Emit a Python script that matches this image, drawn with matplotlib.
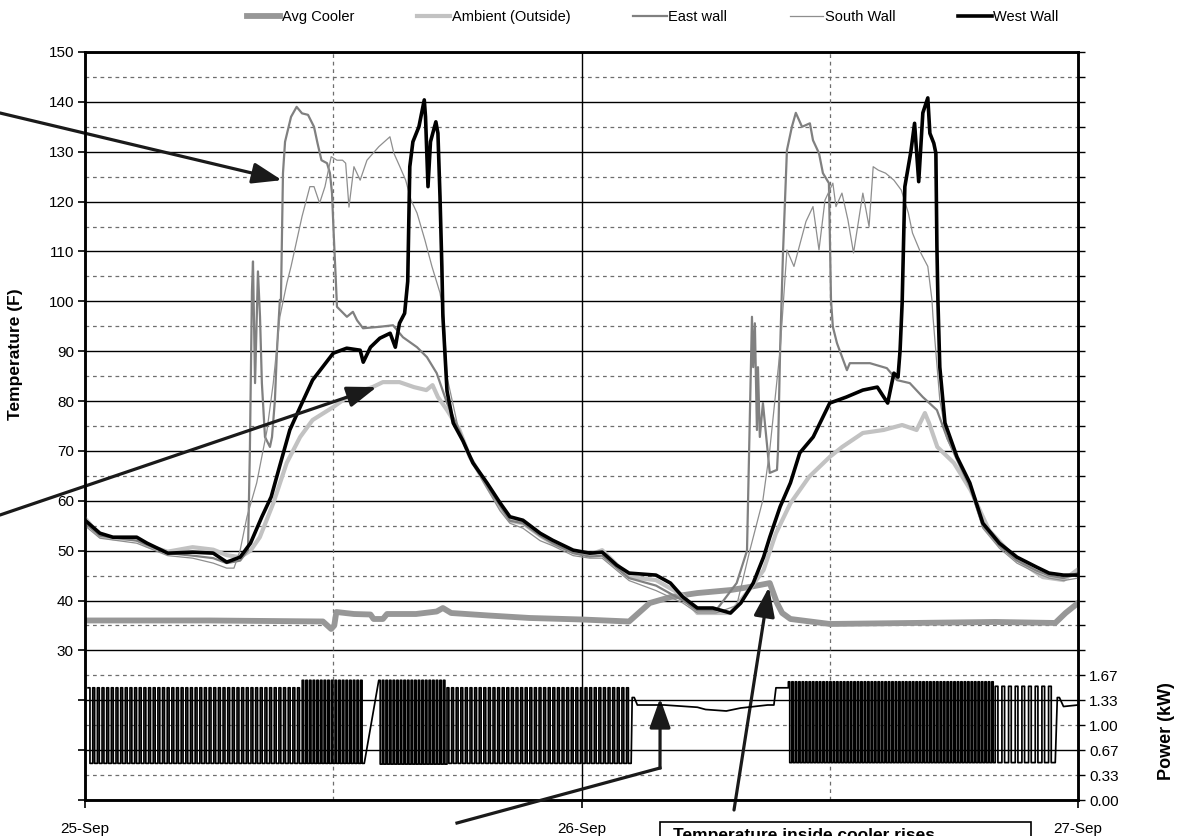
import numpy as np
import matplotlib
matplotlib.use('Agg')
import matplotlib.pyplot as plt
from matplotlib.lines import Line2D
from matplotlib.patches import Rectangle

plt.rcParams['font.family'] = ['Liberation Sans', 'DejaVu Sans']

# hours since 25-Sep 00:00
date_ticks = [0, 24, 48]
date_labels = ['25-Sep', '26-Sep', '27-Sep']

# Avg Cooler
cool_h = [0, 6, 11.5, 11.9, 12.05, 12.15, 13.0, 13.8, 13.95, 14.4, 14.6, 16.0, 17.0, 17.3, 17.7,
          19.5, 21.5, 24, 26.3, 27.3, 28.3, 29.6, 31.2, 32.1, 33.1, 33.45, 33.7, 34.1, 36, 40,
          44, 46.9, 47.4, 48]
cool_t = [36, 36, 35.8, 34.3, 35, 37.7, 37.3, 37.2, 36.3, 36.3, 37.3, 37.3, 37.8, 38.5, 37.5,
          37, 36.5, 36.2, 35.8, 39.5, 40.7, 41.5, 42.1, 42.7, 43.5, 39.5, 37.5, 36.3, 35.3, 35.5,
          35.7, 35.5, 37.5, 39.5]

# Ambient (Outside)
amb_h = [0, 0.72, 1.35, 2.5, 3.0, 4.0, 5.2, 6.2, 6.85, 7.5, 8.0, 8.45, 9.1, 9.75, 10.4, 11.0,
         12.0, 12.95, 13.9, 14.4, 15.2, 15.9, 16.5, 16.8, 17.06, 17.5, 18.1, 18.6, 19.43, 20.06,
         20.54, 21.17, 22.0, 22.6, 23.6, 24.4, 25.0, 26.3, 27.6, 28.9, 29.6, 31.2, 32.1, 32.8,
         33.4, 34.1, 35.0, 36.0, 36.6, 37.6, 38.6, 39.5, 40.2, 40.6, 40.8, 41.2, 42.0, 42.8,
         43.7, 44.9, 46.3, 47.3, 47.95]
amb_t = [56.5, 53, 52.5, 52.3, 51, 49.8, 50.7, 50.2, 49.1, 48.7, 50, 52.7, 59.5, 67.6, 72.8, 76.2,
         78.8, 81.6, 82.8, 83.8, 83.8, 82.8, 82.2, 83.2, 80.8, 78.2, 74.2, 68.8, 63, 58.8,
         56, 55.5, 53, 51.5, 49.7, 49.2, 50.1, 44.7, 44.1, 41, 37.5, 37.5, 42.1, 46.1,
         53.5, 59.5, 64.8, 68.8, 70.8, 73.6, 74.2, 75.2, 74.2, 77.6, 75.6, 70.8, 67.6, 62.2,
         54.1, 48.7, 44.7, 44.1, 46.1]

# East wall
east_h = [0, 0.72, 2.5, 4.0, 5.2, 6.2, 6.85, 7.5, 7.88, 7.97, 8.07, 8.12, 8.22, 8.36, 8.46, 8.55,
          8.7, 8.94, 9.04, 9.18, 9.28, 9.42, 9.47, 9.57, 9.67, 9.96, 10.23, 10.49, 10.78, 11.07,
          11.24, 11.43, 11.7, 11.84, 11.94, 12.02, 12.13, 12.18, 12.66, 12.95, 13.15, 13.44,
          14.26, 14.89, 15.37, 16.05, 16.53, 17.0, 17.5, 18.1, 18.6, 19.43, 20.06, 20.54, 21.17,
          22.0, 22.6, 23.6, 24.4, 25.0, 26.3, 27.6, 28.9, 29.6, 30.5, 31.5, 32.0, 32.24, 32.3,
          32.38, 32.48, 32.53, 32.62, 32.77, 33.1, 33.45, 33.5, 33.6, 33.74, 33.93, 34.17, 34.36,
          34.66, 35.04, 35.19, 35.48, 35.67, 35.96, 36.06, 36.15, 36.35, 36.83, 36.97, 37.94,
          38.76, 39.25, 39.87, 40.5, 41.18, 41.66, 42.15, 42.77, 43.4, 44.2, 45.05, 46.0, 46.6,
          47.3, 48.0]
east_t = [55.5, 53, 52, 49.5, 49, 48.5, 47.5, 48, 50.1, 70.2, 102, 108, 83.6, 106, 96.9, 83.6,
          72.8, 70.8, 72.8, 80.2, 90.2, 100.3, 100, 125.7, 132, 137, 139, 137.7, 137.4, 135,
          131.7, 128.3, 127.7, 125.7, 121.7, 113.7, 103.7, 98.9, 96.9, 97.9, 96.2, 94.6,
          94.9, 95.2, 92.8, 90.8, 88.8, 85.6, 79.6, 74, 69, 63, 59, 56, 55.5,
          53, 51.5, 49.5, 48.8, 49, 44.5, 43, 40, 38, 38, 43.5, 50, 96.9, 86.8,
          95.6, 74.2, 86.8, 72.8, 79.6, 65.6, 66.2, 70.2, 90.2, 109.7, 130.3, 135, 137.8,
          135, 135.7, 132.3, 129.7, 125.7, 123.7, 100.3, 94.9, 91.6, 86.2, 87.6, 87.6,
          86.6, 84.2, 83.6, 80.8, 78.2, 72.8, 68.5, 63, 55, 51, 48, 46, 45,
          44.5, 45.5]

# South Wall
south_h = [0, 0.72, 2.5, 4.0, 5.2, 6.2, 6.85, 7.2, 7.5, 7.83, 8.3, 8.8, 9.1, 9.42, 9.76, 9.96,
           10.49, 10.87, 11.07, 11.34, 11.6, 11.9, 12.18, 12.45, 12.6, 12.76, 13.0, 13.3, 13.63,
           14.2, 14.74, 14.93, 15.22, 15.5, 15.76, 16.05, 16.43, 16.77, 17.16, 17.35, 17.5,
           18.1, 18.6, 19.43, 20.06, 20.54, 21.17, 22.0, 22.6, 23.6, 24.4, 25.0, 26.3, 27.6,
           28.9, 29.6, 30.5, 31.5, 32.14, 32.77, 33.1, 33.6, 33.93, 34.27, 34.85, 35.19, 35.48,
           35.77, 36.15, 36.3, 36.59, 36.88, 37.15, 37.6, 37.9, 38.1, 38.35, 38.7, 39.1, 39.46,
           39.8, 40.0, 40.4, 40.74, 40.94, 40.99, 41.32, 41.66, 42.15, 42.77, 43.4, 44.2, 45.05,
           46.0, 46.6, 47.3, 48.0]
south_t = [55, 52.5, 51.5, 49, 48.5, 47.5, 46.5, 46.5, 50.1, 56.8, 63.6, 74.2, 83.6, 96.9, 103.7, 107,
           117, 123, 123, 119.7, 123, 129, 128.3, 128.3, 127.7, 118.9, 127, 124.3, 128.3,
           131, 133, 129.7, 127, 124.3, 120.3, 117.7, 112.3, 107, 101.7, 96.9, 84.8,
           73.5, 68.5, 62.5, 58, 55.5, 54.5, 52, 51, 49, 48.5, 48.5, 44, 42,
           39.5, 37.5, 37.5, 39, 50.1, 60.2, 70.2, 90.2, 110.3, 107, 116, 119, 110.3,
           120.3, 123.7, 119, 121.7, 116.3, 109.7, 121.7, 115, 127, 126.3, 125.7, 124.3, 122.3,
           117.7, 113.7, 109.7, 107, 100.3, 96.9, 80.2, 72.5, 68, 62.5, 54.5, 50.5, 47.5,
           45.5, 44.5, 44, 44.5]

# West Wall
west_h = [0, 0.72, 1.35, 2.5, 3.0, 4.0, 5.2, 6.2, 6.85, 7.5, 8.0, 8.55, 9.0, 9.4, 9.9, 10.4, 11.0,
          12.0, 12.65, 13.3, 13.45, 13.8, 14.25, 14.75, 15.0, 15.2, 15.45, 15.6, 15.7, 15.85,
          16.14, 16.4, 16.46, 16.58, 16.7, 16.96, 17.06, 17.16, 17.25, 17.3, 17.5, 17.8, 18.27,
          18.75, 19.43, 20.06, 20.54, 21.17, 22.0, 22.6, 23.6, 24.4, 25.0, 25.7, 26.3, 27.6,
          28.3, 28.9, 29.6, 30.35, 31.2, 31.7, 32.3, 32.8, 33.1, 33.6, 34.1, 34.55, 35.2, 36.0,
          36.8, 37.6, 38.3, 38.8, 39.1, 39.3, 39.4, 39.5, 39.63, 39.92, 40.1, 40.3, 40.5, 40.74,
          40.84, 41.03, 41.13, 41.18, 41.23, 41.32, 41.57, 42.15, 42.77, 43.4, 44.2, 45.05,
          46.0, 46.6, 47.3, 48.0]
west_t = [56.1, 53.5, 52.7, 52.7, 51.5, 49.5, 49.7, 49.5, 47.7, 48.7, 51.5, 56.8, 60.8, 66.8, 74.2,
          78.8, 84.2, 89.6, 90.6, 90.2, 87.8, 90.8, 92.6, 93.6, 90.8, 95.6, 97.6, 104, 127, 132,
          135, 140.4, 137, 123, 132, 136, 133.7, 121, 107, 97, 82, 75.6, 72,
          67.6, 63.6, 59.6, 56.8, 56.1, 53.5, 52.1, 50.1, 49.5, 49.7, 47.1, 45.5, 45.1,
          43.5, 40.7, 38.5, 38.5, 37.5, 39.5, 43.5, 48.7, 52.7, 58.8, 63.6, 69.6, 72.8, 79.6,
          80.8, 82.2, 82.8, 79.6, 85.6, 84.8, 90.2, 99.7, 123, 130, 135.7, 124, 137.8, 140.8,
          133.7, 131.7, 129.7, 111, 100, 86.8, 75.6, 68.8, 63.6, 55.5, 51.5, 48.7,
          46.7, 45.5, 45.1, 45.1]

# Power (kW): compressor cycling blocks
cyc_start = [0.15, 10.5, 14.2, 17.5, 34.0, 44.0]
cyc_end = [10.5, 13.5, 17.5, 26.4, 44.0, 46.9]
cyc_count = [46, 17, 19, 40, 60, 9]
cyc_low = [0.49, 0.49, 0.48, 0.49, 0.50, 0.50]
cyc_high = [1.50, 1.60, 1.60, 1.50, 1.58, 1.52]
# steady parts between cycling blocks
flat_h = [[], [], [], [26.45, 26.55, 26.7, 28.0, 29.6, 30.0, 31.0, 31.7, 33.0, 33.3, 33.4, 34.0],
          [], [47.0, 47.1, 47.3, 48.0]]
flat_p = [[], [], [], [1.37, 1.37, 1.27, 1.27, 1.24, 1.21, 1.19, 1.23, 1.27, 1.27, 1.50, 1.50],
          [], [1.37, 1.37, 1.25, 1.27]]

pw_h, pw_v = [], []
for i in range(len(cyc_start)):
    per = (cyc_end[i] - cyc_start[i]) / cyc_count[i]
    for k in range(cyc_count[i]):
        s = cyc_start[i] + k * per
        pw_h += [s, s + 0.4 * per, s + 0.4 * per, s + per]
        pw_v += [cyc_high[i], cyc_high[i], cyc_low[i], cyc_low[i]]
    pw_h += flat_h[i]
    pw_v += flat_p[i]

fig = plt.figure(figsize=(11.8, 8.36), dpi=100)
ax = fig.add_axes([85 / 1180, 1 - 800 / 836, 993 / 1180, 748 / 836])
ax.set_xlim(0, 48)
ax.set_ylim(0, 150)

# grid
for v in range(0, 151, 10):
    ax.axhline(v, color='black', lw=1.0, zorder=1)
for v in range(5, 150, 10):
    ax.axhline(v, color='#6e6e6e', lw=0.9, ls=(0, (3, 3)), zorder=1)
ax.axvline(24, color='black', lw=1.0, zorder=1)
for v in [12, 36]:
    ax.axvline(v, color='#6e6e6e', lw=0.9, ls=(0, (3, 3)), zorder=1)

l1, = ax.plot(cool_h, cool_t, color='#979797', lw=4.2, label='Avg Cooler', zorder=2)
l2, = ax.plot(amb_h, amb_t, color='#c2c2c2', lw=3.0, label='Ambient (Outside)', zorder=3)
l3, = ax.plot(east_h, east_t, color='#808080', lw=1.6, label='East wall', zorder=4)
l4, = ax.plot(south_h, south_t, color='#8e8e8e', lw=0.9, label='South Wall', zorder=5)
l5, = ax.plot(west_h, west_t, color='black', lw=2.6, label='West Wall', zorder=6)

ax.set_xticks(date_ticks)
ax.set_xticklabels(date_labels)
ax.set_yticks(range(0, 151, 10))
ax.set_yticklabels([str(v) if v >= 30 else '' for v in range(0, 151, 10)])
ax.tick_params(axis='x', direction='out', length=6, width=1.2, labelsize=11, pad=10)
ax.tick_params(axis='y', direction='out', length=5, width=1.2, labelsize=11, pad=3)
ax.set_ylabel('Temperature (F)', fontsize=12.5, fontweight='bold')
ax.yaxis.set_label_coords(-0.062, 0.596)
for sp in ax.spines.values():
    sp.set_linewidth(1.8)

ax2 = ax.twinx()
ax2.set_ylim(0, 10)
ax2.plot(pw_h, pw_v, color='black', lw=1.25, zorder=6)
pticks = [k / 3 for k in range(0, 31)]
ax2.set_yticks(pticks)
ax2.set_yticklabels(['%.2f' % t if t < 1.7 else '' for t in pticks])
ax2.tick_params(axis='y', direction='out', length=5, width=1.0, labelsize=11, pad=3)
ax2.set_ylabel('Power (kW)', fontsize=13, fontweight='bold')
ax2.yaxis.set_label_coords(1.081, 0.092)
for sp in ax2.spines.values():
    sp.set_linewidth(1.8)

fig.legend(handles=[l1, l2, l3, l4, l5], loc='center', bbox_to_anchor=(0.553, 1 - 17 / 836),
           ncol=5, frameon=False, fontsize=10.5, handlelength=2.3, handletextpad=0.1,
           columnspacing=4.3)

# annotation arrows
def fpx(x, y):
    return (x / 1180, 1 - y / 836)

arw = dict(arrowstyle='-|>,head_length=0.9,head_width=0.32', color='#1a1a1a', lw=2.3,
           shrinkA=0, shrinkB=0, mutation_scale=20)
ax.annotate('', xy=(9.52, 124.3), xycoords='data', xytext=fpx(0, 113),
            textcoords='figure fraction', arrowprops=arw, annotation_clip=False, zorder=10)
ax.annotate('', xy=(14.1, 82.8), xycoords='data', xytext=fpx(0, 515),
            textcoords='figure fraction', arrowprops=arw, annotation_clip=False, zorder=10)
ax.annotate('', xy=(27.8, 20.4), xycoords='data', xytext=fpx(660, 768),
            textcoords='figure fraction', arrowprops=arw, annotation_clip=False, zorder=10)
ax.annotate('', xy=(33.06, 42.7), xycoords='data', xytext=fpx(734, 810),
            textcoords='figure fraction', arrowprops=arw, annotation_clip=False, zorder=10)
fig.add_artist(Line2D([457 / 1180, 660 / 1180], [1 - 823 / 836, 1 - 768 / 836],
                      color='#1a1a1a', lw=2.3, transform=fig.transFigure))

fig.add_artist(Rectangle(fpx(660, 860), 371 / 1180, 38 / 836, transform=fig.transFigure,
                         facecolor='white', edgecolor='black', lw=1.2))
fig.text(673 / 1180, 1 - 828 / 836, 'Temperature inside cooler rises', fontsize=12.5,
         fontweight='bold', va='top', ha='left')

fig.savefig('out.png', dpi=100)
